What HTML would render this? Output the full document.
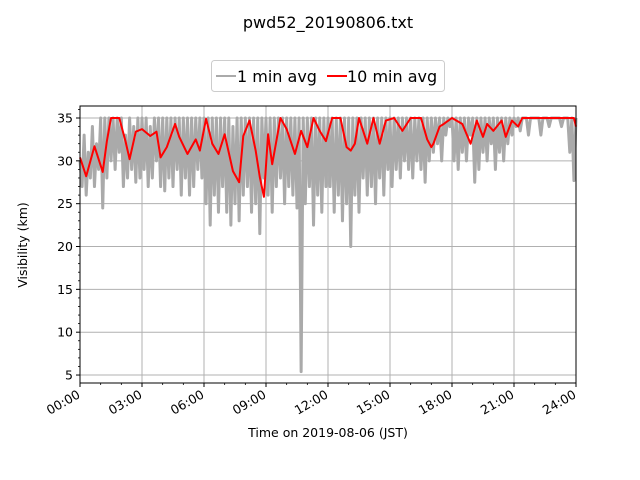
<!DOCTYPE html>
<html><head><meta charset="utf-8"><style>
body{margin:0;background:#fff;}
svg{display:block;font-family:"DejaVu Sans","Liberation Sans",sans-serif;}
</style></head><body>
<svg id="chart" width="640" height="480" viewBox="0 0 640 480" xmlns="http://www.w3.org/2000/svg">
<rect width="640" height="480" fill="#fff"/>
<text x="328" y="28" font-size="16" text-anchor="middle">pwd52_20190806.txt</text>
<g id="grid"></g>
<g id="series"></g>
<rect x="80" y="106" width="496" height="277" fill="none" stroke="#000" stroke-width="1"/>
<g id="axes"></g>
<text x="0" y="0" font-size="12.5" text-anchor="middle" transform="translate(27,245) rotate(-90)">Visibility (km)</text>
<text x="328" y="437" font-size="12.5" text-anchor="middle">Time on 2019-08-06 (JST)</text>
<g>
<rect x="211.5" y="60.5" width="233" height="31" rx="3" fill="#fff" stroke="#ccc"/>
<line x1="216" y1="76" x2="236" y2="76" stroke="#aaaaaa" stroke-width="2"/>
<text x="237" y="82" font-size="16">1 min avg</text>
<line x1="327" y1="76" x2="347" y2="76" stroke="#ff0000" stroke-width="2"/>
<text x="347" y="82" font-size="16">10 min avg</text>
</g>
</svg>
<script>
const yTicks=[5,10,15,20,25,30,35];
const xTickHours=[0,3,6,9,12,15,18,21,24];
const xTickLabels=["00:00","03:00","06:00","09:00","12:00","15:00","18:00","21:00","24:00"];
const grayStepHours=0.1;
const grayV=[
30,27,33,26,31,28,34,27,32,29,
35,24.5,35,28,35,30,35,29,35,31,
35,27,33,28,35,29,34,27.5,35,28,
35,29,35,27,34,28,35,30,35,27,
35,26.5,35,28,35,27,35,29,35,26,
35,28,35,26,35,27,35,29,35,28,
35,25,35,22.5,35,26,35,24,35,27,
35,24,35,22.5,34,25,35,23,35,26,
35,27,35,24,35,25,35,21.5,35,28,
35,26,35,24,35,27,35,28,35,25,
35,27,35,26,35,24.5,35,5.4,35,25,
35,27,35,22.5,35,26,35,24,35,27,
35,27,35,24,35,26,35,23,35,25,
35,20,35,26,35,24,35,28,35,26,
35,27,35,25,35,28,35,26,35,29,
35,27,35,29,35,28,35,30,35,29,
35,28,35,30,35,29,35,27.5,35,30,
35,31,35,32,35,30,35,33,35,34,
35,30,35,29,35,31,35,30,35,33,
35,27.5,35,29,35,31,35,30,35,32,
35,29,35,31,35,30,35,32,35,33,
35,34,35,33.5,35,35,35,33,35,35,
35,35,35,33,35,35,35,34,35,35,
35,35,35,34,35,35,35,31,35,27.7,
35];
const redT=[0,0.3,0.7,1.1,1.3,1.5,1.9,2.2,2.4,2.7,3.0,3.4,3.7,3.9,4.2,4.6,4.8,5.2,5.6,5.8,6.1,6.4,6.7,7.0,7.4,7.7,7.9,8.2,8.5,8.7,8.9,9.1,9.3,9.7,10.0,10.4,10.7,11.0,11.3,11.6,11.9,12.2,12.6,12.9,13.1,13.3,13.5,13.9,14.2,14.5,14.8,15.2,15.6,16.0,16.5,16.8,17.0,17.1,17.4,17.6,18.0,18.5,18.9,19.2,19.5,19.7,20.0,20.4,20.6,20.9,21.2,21.4,22.5,23.9,24];
const redV=[30.4,28.2,31.7,28.7,32.3,35,35,32.3,30.2,33.4,33.7,32.9,33.4,30.4,31.6,34.3,32.8,30.8,32.5,31.2,34.9,32,30.8,33.1,28.8,27.5,32.9,34.7,31.2,28.1,25.8,33.1,29.6,35,33.7,30.8,33.5,31.6,35,33.5,32.3,35,35,31.6,31.2,32,35,32,35,32,34.7,35,33.5,35,35,32.5,31.6,32,34,34.3,35,34.3,32,34.7,32.8,34.3,33.5,34.7,32.8,34.7,34,35,35,35,34];

const X0=80,X1=576,Y0=383,Y1=106;
const yMin=4.07,yMax=36.4;
const sx=h=>X0+(h/24)*(X1-X0);
const sy=v=>Y0-(v-yMin)/(yMax-yMin)*(Y0-Y1);
const NS="http://www.w3.org/2000/svg";
function mk(tag,attrs,parent){const e=document.createElementNS(NS,tag);for(const k in attrs)e.setAttribute(k,attrs[k]);parent.appendChild(e);return e;}
const grid=document.getElementById('grid'),axes=document.getElementById('axes'),series=document.getElementById('series');

yTicks.forEach(v=>{
  const y=sy(v);
  const g=mk('line',{x1:X0,x2:X1,y1:y,y2:y,stroke:'#b0b0b0','stroke-width':1},grid);
  
  
  const t=mk('line',{x1:X0-4,x2:X0,y1:y,y2:y,stroke:'#000','stroke-width':1},axes);
  
  
  const l=mk('text',{x:X0-7,y:y+4.5,'font-size':12.5,'text-anchor':'end'},axes);
  l.textContent=v;
  
  
});
for(let v=5;v<=36;v++){
  if(v%5===0)continue;
  const y=sy(v);
  const m=mk('line',{x1:X0-2,x2:X0,y1:y,y2:y,stroke:'#000','stroke-width':0.8},axes);
  
  
}
for(let h=0;h<=24;h++){
  const x=sx(h);
  const m=mk('line',{x1:x,x2:x,y1:Y0,y2:Y0+2,stroke:'#000','stroke-width':0.8},axes);
  
  
}
xTickHours.forEach((h,i)=>{
  const x=sx(h);
  const g=mk('line',{x1:x,x2:x,y1:Y1,y2:Y0,stroke:'#b0b0b0','stroke-width':1},grid);
  
  
  const t=mk('line',{x1:x,x2:x,y1:Y0,y2:Y0+4,stroke:'#000','stroke-width':1},axes);
  
  
  const l=mk('text',{x:0,y:0,'font-size':12.5,'text-anchor':'end',transform:`translate(${x+1},${Y0+14}) rotate(-30)`},axes);
  l.textContent=xTickLabels[i];
  
  
});

const gp=grayV.map((v,i)=>`${sx(i*grayStepHours).toFixed(2)},${sy(v).toFixed(2)}`).join(' ');
const gl=mk('polyline',{points:gp,fill:'none',stroke:'#aaaaaa','stroke-width':3,'stroke-linejoin':'round'},series);


const rp=redT.map((t,i)=>`${sx(t).toFixed(2)},${sy(redV[i]).toFixed(2)}`).join(' ');
const rl=mk('polyline',{points:rp,fill:'none',stroke:'#ff0000','stroke-width':2,'stroke-linejoin':'round'},series);


</script>
</body></html>
